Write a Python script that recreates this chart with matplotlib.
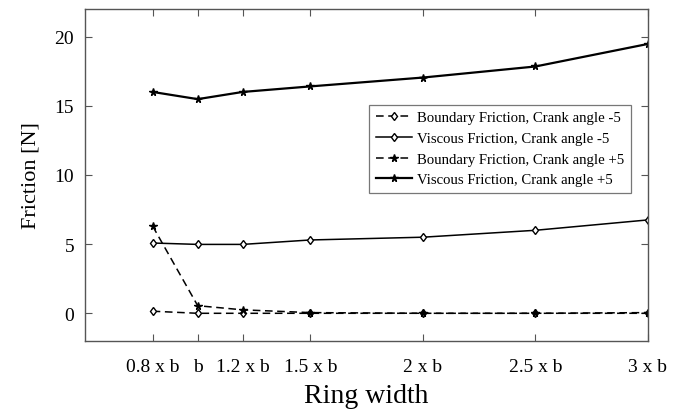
import matplotlib
matplotlib.use("Agg")
import matplotlib.pyplot as plt

ring_width = [0.8, 1.0, 1.2, 1.5, 2.0, 2.5, 3.0]
tick_labels = ["0.8 x b", "b", "1.2 x b", "1.5 x b", "2 x b", "2.5 x b", "3 x b"]

boundary_m5 = [0.15, 0.0, 0.0, 0.0, 0.0, 0.0, 0.0]
viscous_m5 = [5.08, 4.98, 4.98, 5.3, 5.5, 6.0, 6.75]
boundary_p5 = [6.3, 0.55, 0.25, 0.05, 0.0, 0.0, 0.05]
viscous_p5 = [16.0, 15.48, 16.0, 16.4, 17.04, 17.84, 19.47]

plt.rcParams['font.family'] = ['Liberation Serif', 'DejaVu Serif']

fig = plt.figure(figsize=(6.81, 4.14), dpi=100)
ax = fig.add_axes([0.125, 0.174, 0.8265, 0.802])

dash = (0, (5, 3))
ax.plot(ring_width, boundary_m5, linestyle=dash, color='k', lw=1.1, marker='d',
        ms=4.5, mfc='white', mec='k', label='Boundary Friction, Crank angle -5')
ax.plot(ring_width, viscous_m5, linestyle='-', color='k', lw=1.1, marker='d',
        ms=4.5, mfc='white', mec='k', label='Viscous Friction, Crank angle -5')
ax.plot(ring_width, boundary_p5, linestyle=dash, color='k', lw=1.1, marker='*',
        ms=5.5, mfc='k', mec='k', label='Boundary Friction, Crank angle +5')
ax.plot(ring_width, viscous_p5, linestyle='-', color='k', lw=1.6, marker='*',
        ms=5.5, mfc='k', mec='k', label='Viscous Friction, Crank angle +5')

ax.set_xlim(0.5, 3.0)
ax.set_ylim(-2, 22)
ax.set_xticks(ring_width)
ax.set_xticklabels(tick_labels)
ax.set_yticks([0, 5, 10, 15, 20])

ax.tick_params(direction='in', top=True, right=True, length=5, width=0.8,
               color='#555555', labelsize=14)
ax.tick_params(axis='x', pad=12)
ax.tick_params(axis='y', pad=8)
for s in ax.spines.values():
    s.set_color('#555555')
    s.set_linewidth(1.0)

ax.set_xlabel('Ring width', fontsize=20, labelpad=6)
ax.set_ylabel('Friction [N]', fontsize=16, labelpad=10)

leg = ax.legend(loc='upper left', bbox_to_anchor=(0.505, 0.712), fontsize=10.6,
                frameon=True, fancybox=False, edgecolor='#555555',
                handlelength=2.45, handletextpad=0.35, labelspacing=0.5,
                borderpad=0.45, borderaxespad=0)
leg.get_frame().set_linewidth(0.9)

fig.savefig('out.png', dpi=100)
